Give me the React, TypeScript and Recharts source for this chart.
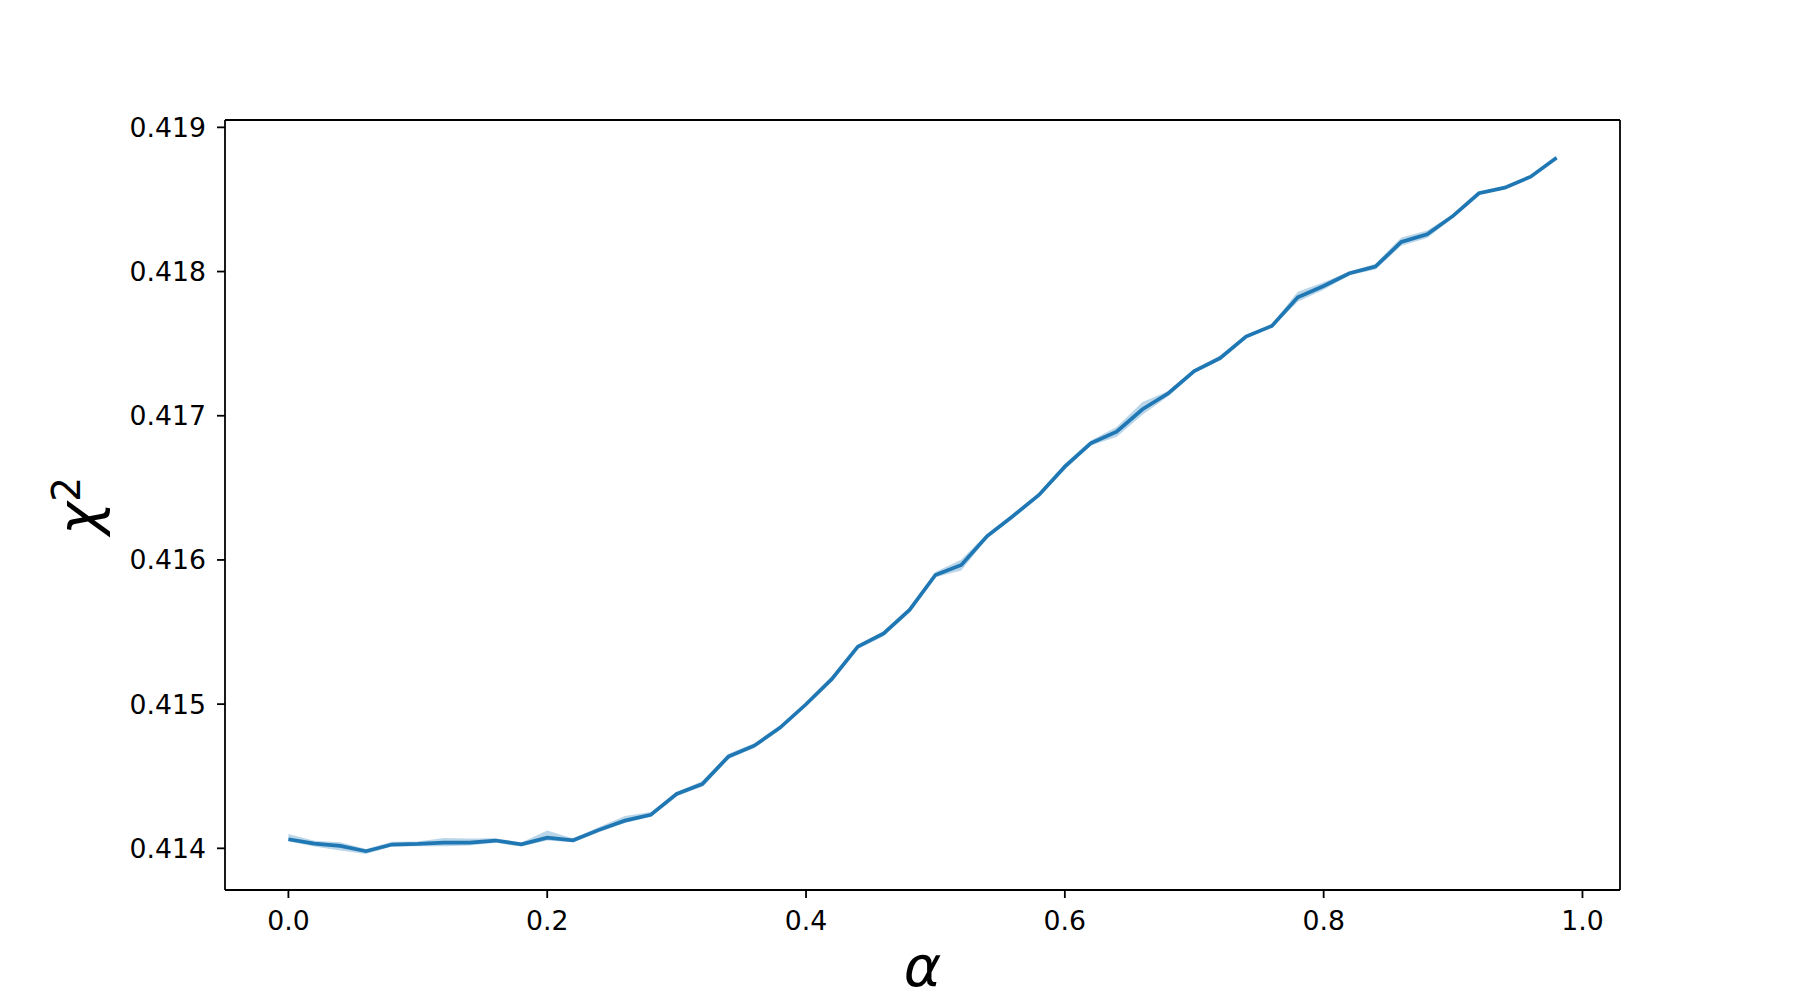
import React from "react";
import { ComposedChart, Line, Area, XAxis, YAxis, Label, ReferenceLine } from "recharts";

const alphas = [
  0.0, 0.02, 0.04, 0.06, 0.08, 0.1, 0.12, 0.14, 0.16, 0.18,
  0.2, 0.22, 0.24, 0.26, 0.28, 0.3, 0.32, 0.34, 0.36, 0.38,
  0.4, 0.42, 0.44, 0.46, 0.48, 0.5, 0.52, 0.54, 0.56, 0.58,
  0.6, 0.62, 0.64, 0.66, 0.68, 0.7, 0.72, 0.74, 0.76, 0.78,
  0.8, 0.82, 0.84, 0.86, 0.88, 0.9, 0.92, 0.94, 0.96, 0.98,
];

const chiMean = [
  0.414063, 0.414033, 0.414017, 0.41398, 0.414026, 0.414031, 0.41404, 0.41404, 0.414054, 0.414028,
  0.414074, 0.414056, 0.414128, 0.414192, 0.414232, 0.414377, 0.414447, 0.414636, 0.414712, 0.414837,
  0.414999, 0.415175, 0.415399, 0.41549, 0.415653, 0.415896, 0.415965, 0.416166, 0.416305, 0.416451,
  0.416647, 0.416809, 0.41689, 0.417045, 0.417156, 0.41731, 0.417399, 0.417549, 0.417623, 0.417822,
  0.4179, 0.417988, 0.418034, 0.418205, 0.418259, 0.418386, 0.418543, 0.418582, 0.418658, 0.41879,
];

// confidence band half-widths above / below the mean (in units of 1e-6)
const ciUpper = [
  36, 20, 26, 16, 20, 16, 32, 28, 16, 13,
  50, 13, 20, 32, 20, 13, 20, 20, 16, 13,
  13, 16, 13, 16, 13, 20, 38, 16, 13, 13,
  20, 20, 32, 50, 16, 13, 20, 13, 13, 38,
  26, 13, 20, 32, 26, 13, 13, 10, 10, 10,
];
const ciLower = [
  16, 20, 32, 20, 13, 16, 26, 20, 16, 16,
  20, 13, 16, 16, 13, 13, 20, 16, 16, 13,
  13, 16, 16, 20, 13, 16, 38, 16, 13, 13,
  20, 16, 38, 38, 20, 13, 13, 13, 13, 32,
  26, 13, 20, 26, 26, 13, 10, 10, 10, 10,
];

const xTicks = [0, 0.2, 0.4, 0.6, 0.8, 1.0];
const yTicks = [0.414, 0.415, 0.416, 0.417, 0.418, 0.419];
const xDomain: [number, number] = [-0.049, 1.029];
const yDomain: [number, number] = [0.413711, 0.419051];

const data = alphas.map((a, i) => ({
  alpha: a,
  chi: chiMean[i],
  band: [chiMean[i] - ciLower[i] * 1e-6, chiMean[i] + ciUpper[i] * 1e-6],
}));

const FONT = "'DejaVu Sans', sans-serif";
const BLUE = "#1f77b4";
const tickStyle = { fontSize: 26.7, fill: "#000", fontFamily: FONT };

export default function App() {
  return (
    <div style={{ position: "absolute", left: 0, top: 0, width: 1800, height: 1000, background: "#fff" }}>
      <ComposedChart
        width={1800}
        height={1000}
        data={data}
        margin={{ top: 120, right: 180, bottom: 0, left: 0 }}
      >
        <XAxis
          dataKey="alpha"
          type="number"
          domain={xDomain}
          allowDataOverflow
          ticks={xTicks}
          tickFormatter={(v: number) => v.toFixed(1)}
          height={110}
          tickSize={8}
          tickMargin={13}
          tick={tickStyle}
          axisLine={{ stroke: "#000", strokeWidth: 1.8 }}
          tickLine={{ stroke: "#000", strokeWidth: 1.8 }}
        >
          <Label
            content={(props: any) => {
              const vb = props.viewBox || {};
              const cx = (vb.x ?? 225) + (vb.width ?? 1395) / 2;
              return (
                <text x={cx} y={986} textAnchor="middle" fontSize={57} fontStyle="italic" fontFamily={FONT} fill="#000">
                  α
                </text>
              );
            }}
          />
        </XAxis>
        <YAxis
          type="number"
          domain={yDomain}
          allowDataOverflow
          ticks={yTicks}
          tickFormatter={(v: number) => v.toFixed(3)}
          width={225}
          tickSize={8}
          tickMargin={11}
          tick={tickStyle}
          axisLine={{ stroke: "#000", strokeWidth: 1.8 }}
          tickLine={{ stroke: "#000", strokeWidth: 1.8 }}
        >
          <Label
            content={() => (
              <text
                transform="translate(98, 506) rotate(-90)"
                textAnchor="middle"
                fontSize={56}
                fontFamily={FONT}
                fill="#000"
              >
                <tspan fontStyle="italic">χ</tspan>
                <tspan fontSize={39} dy={-18}>2</tspan>
              </text>
            )}
          />
        </YAxis>
        <ReferenceLine y={yDomain[1]} stroke="#000" strokeWidth={1.8} ifOverflow="extendDomain" />
        <ReferenceLine x={xDomain[1]} stroke="#000" strokeWidth={1.8} ifOverflow="extendDomain" />
        <Area
          dataKey="band"
          type="linear"
          stroke="none"
          fill={BLUE}
          fillOpacity={0.3}
          isAnimationActive={false}
          activeDot={false}
        />
        <Line
          dataKey="chi"
          type="linear"
          stroke={BLUE}
          strokeWidth={3.7}
          dot={false}
          activeDot={false}
          isAnimationActive={false}
        />
      </ComposedChart>
    </div>
  );
}
